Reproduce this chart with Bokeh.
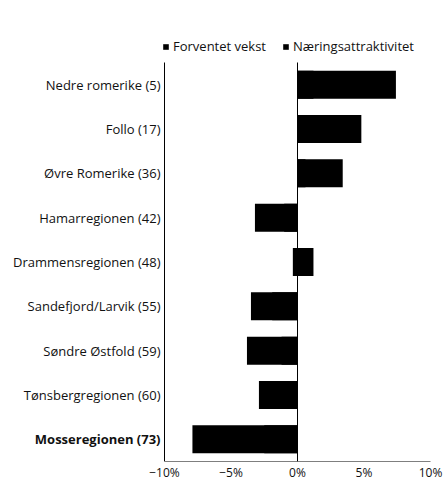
from bokeh.plotting import figure
from bokeh.models import Range1d, FixedTicker, Legend, LegendItem, ColumnDataSource
from bokeh.core.properties import value
from bokeh.embed import file_html
from bokeh.resources import INLINE

categories = ["Nedre romerike (5)", "Follo (17)", "Øvre Romerike (36)", "Hamarregionen (42)",
              "Drammensregionen (48)", "Sandefjord/Larvik (55)", "Søndre Østfold (59)",
              "Tønsbergregionen (60)", "Mosseregionen (73)"]
forventet_vekst = [1.2, 1.8, 0.6, -1.0, -0.35, -1.9, -1.2, -0.8, -2.5]
naeringsattraktivitet = [6.2, 3.0, 2.8, -2.2, 1.2, -1.6, -2.6, -2.1, -5.4]
x_ticks = [-10, -5, 0, 5, 10]
x_tick_labels = ["−10%", "−5%", "0%", "5%", "10%"]
highlight = "Mosseregionen (73)"

n = len(categories)
ypos = [n - 1 - i for i in range(n)]

# diverging stack: Næringsattraktivitet drawn from 0 to the stacked total, Forventet vekst on top
f_left, f_right, n_left, n_right = [], [], [], []
for f, v in zip(forventet_vekst, naeringsattraktivitet):
    f_left.append(0); f_right.append(f)
    n_left.append(0)
    n_right.append(f + v if (f >= 0) == (v >= 0) else v)

src_f = ColumnDataSource(dict(y=ypos, left=f_left, right=f_right))
src_n = ColumnDataSource(dict(y=ypos, left=n_left, right=n_right))
src_lab = ColumnDataSource(dict(y=ypos, x=[x_ticks[0]] * n, text=categories,
                                style=["bold" if c == highlight else "normal" for c in categories]))

FONT = "Open Sans"
FS = "13px"
xmin, xmax = x_ticks[0], x_ticks[-1]
ppu_x = 266 / (xmax - xmin)
ppu_y = 399 / n
p = figure(frame_width=444, frame_height=441, output_backend="svg", toolbar_location=None,
           x_range=Range1d(xmin - 164 / ppu_x, xmax + 14 / ppu_x),
           y_range=Range1d(-0.5, -0.5 + 441 / ppu_y),
           min_border_left=0, min_border_top=20, min_border_right=0, min_border_bottom=0,
           y_axis_location=None)
p.outline_line_color = None
p.grid.visible = False
p.background_fill_color = "white"

r2 = p.hbar(y="y", left="left", right="right", height=0.63, source=src_n, fill_color="black", line_color=None)
r1 = p.hbar(y="y", left="left", right="right", height=0.63, source=src_f, fill_color="black", line_color=None)

# axis lines and zero line
p.segment(x0=[xmin, xmin, 0], y0=[-0.5, -0.5, -0.5], x1=[xmax, xmin, 0], y1=[-0.5, n - 0.5, n - 0.5],
          line_color="black", line_width=1)

# category labels
p.text(x="x", y="y", text="text", source=src_lab, x_offset=-4, text_align="right",
       text_baseline="middle", text_font=value(FONT), text_font_size=FS,
       text_font_style="style", text_color="#111111")

# x axis
xa = p.xaxis[0]
xa.ticker = FixedTicker(ticks=x_ticks)
xa.major_label_overrides = {t: l for t, l in zip(x_ticks, x_tick_labels)}
xa.major_tick_line_color = None
xa.minor_tick_line_color = None
xa.major_tick_out = 0
xa.major_tick_in = 0
xa.minor_tick_out = 0
xa.minor_tick_in = 0
xa.axis_line_color = None
xa.major_label_text_font = FONT
xa.major_label_text_font_size = "12px"
xa.major_label_text_color = "#111111"
xa.major_label_standoff = 2

legend = Legend(items=[LegendItem(label="Forventet vekst", renderers=[r1]),
                       LegendItem(label="Næringsattraktivitet", renderers=[r2])],
                orientation="horizontal", location=(162, 406), padding=0, margin=0,
                spacing=16, glyph_width=7, glyph_height=7, label_standoff=4,
                label_text_font=FONT, label_text_font_size=FS, label_text_color="#111111",
                background_fill_alpha=0, border_line_color=None, label_height=13)
p.add_layout(legend, "center")

open("out.html", "w").write(file_html(p, INLINE))
